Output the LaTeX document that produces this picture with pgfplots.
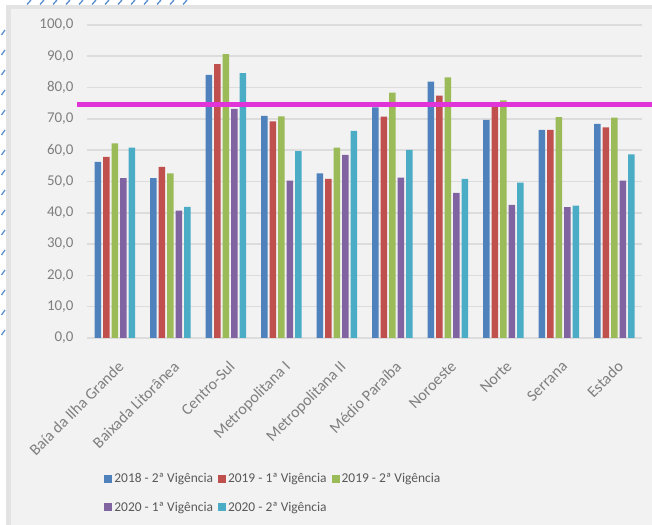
\documentclass[border=0pt]{standalone}
\usepackage{pgfplots}
\pgfplotsset{compat=1.18}
\usepackage{pgfplotstable}
\usepackage{fontspec}
\setmainfont{Carlito}
\definecolor{cBlue}{HTML}{4F81BD}
\definecolor{cRed}{HTML}{C0504D}
\definecolor{cGreen}{HTML}{9BBB59}
\definecolor{cPurple}{HTML}{8064A2}
\definecolor{cCyan}{HTML}{4BACC6}
\definecolor{cMag}{HTML}{E033D8}
\definecolor{bgC}{HTML}{F2F2F2}
\definecolor{frameC}{HTML}{E3E3E3}
\definecolor{gridC}{HTML}{DCDCDC}
\definecolor{tickC}{HTML}{7F7F7F}
\definecolor{legC}{HTML}{595959}
\definecolor{hatchC}{HTML}{5B8FCF}
\pgfplotstableread{
cat b18 r19a g19b p20a c20b
0 56.3 57.9 62.2 51.1 60.8
1 51.1 54.7 52.6 40.7 41.9
2 84.1 87.5 90.7 73.2 84.6
3 71.0 69.2 70.8 50.3 59.7
4 52.6 50.8 60.8 58.5 66.2
5 73.7 70.7 78.4 51.2 60.1
6 81.9 77.4 83.3 46.4 50.8
7 69.7 75.0 75.9 42.5 49.6
8 66.5 66.5 70.6 41.8 42.3
9 68.4 67.3 70.4 50.3 58.7
}\data
\begin{document}
\begin{tikzpicture}[x=1bp,y=1bp]
\fill[white] (0,0) rectangle (652,525);
\fill[frameC] (6,0) rectangle (652,520);
\fill[bgC] (11,0) rectangle (652,516);
\foreach \x in {27,40,...,190} \draw[hatchC, line width=1.3bp] (\x,520.5) -- (\x+4,525);
\foreach \y in {495,475,...,190} \draw[hatchC, line width=1.3bp] (1.5,\y-5) -- (5,\y);
\begin{axis}[
  at={(87bp,187bp)}, anchor=south west,
  scale only axis, width=555bp, height=313bp,
  xmin=-0.5, xmax=9.5, ymin=0, ymax=100,
  ybar=2bp, bar width=6.5bp,
  axis line style={draw=none},
  major tick length=0pt,
  ytick={0,10,...,100},
  ymajorgrids, grid style={gridC, line width=1.6bp},
  xtick=data,
  xticklabels={Baía da Ilha Grande, Baixada Litorânea, Centro-Sul, Metropolitana I, Metropolitana II, Médio Paraíba, Noroeste, Norte, Serrana, Estado},
  xticklabel style={rotate=45, anchor=north east, font=\fontsize{16}{18}\selectfont, text=tickC, inner sep=1bp, xshift=-13bp, yshift=-16bp},
  yticklabel style={font=\fontsize{15}{17}\selectfont, text=tickC, xshift=-10bp},
  /pgf/number format/.cd, fixed, fixed zerofill, precision=1, use comma, assume math mode=true,
  /pgfplots/.cd,
  clip=false,
  legend columns=3,
  legend cell align=left,
  legend style={at={(0.031,-0.425)}, anchor=north west, draw=none, fill=none,
    font=\fontsize{13.5}{16}\selectfont, text=legC, row sep=14bp,
    /tikz/every even column/.append style={column sep=3bp},
    inner sep=0pt},
  legend image code/.code={\fill[#1, draw=none] (0bp,-4bp) rectangle (8bp,4bp);},
]
\addplot[fill=cBlue, draw=none] table[x=cat, y=b18] {\data};
\addplot[fill=cRed, draw=none] table[x=cat, y=r19a] {\data};
\addplot[fill=cGreen, draw=none] table[x=cat, y=g19b] {\data};
\addplot[fill=cPurple, draw=none] table[x=cat, y=p20a] {\data};
\addplot[fill=cCyan, draw=none] table[x=cat, y=c20b] {\data};
\legend{2018 - 2ª Vigência, 2019 - 1ª Vigência, 2019 - 2ª Vigência, 2020 - 1ª Vigência, 2020 - 2ª Vigência}
\addplot[forget plot, sharp plot, draw=cMag, line width=5bp, mark=none] coordinates {(-0.68,74.5) (9.7,74.5)};
\end{axis}
\pgfresetboundingbox
\useasboundingbox (0,0) rectangle (652,525);
\end{tikzpicture}
\end{document}
